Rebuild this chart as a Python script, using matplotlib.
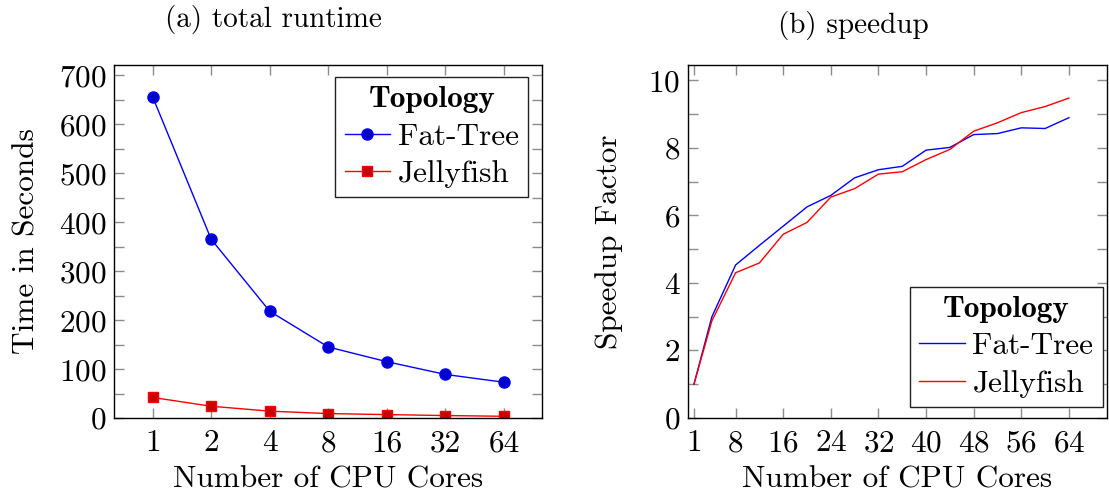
import numpy as np
import matplotlib
matplotlib.use('Agg')
import matplotlib.pyplot as plt
from matplotlib.ticker import MultipleLocator, NullLocator

plt.rcParams['font.family'] = 'cmr10'
plt.rcParams['axes.formatter.use_mathtext'] = True

# (a) total runtime
cores_a = [1, 2, 4, 8, 16, 32, 64]
fat_tree_time = [656, 365, 218, 145, 115, 89, 73]
jellyfish_time = [42, 24, 14, 9, 7, 5, 3.5]

# (b) speedup
cores_b = [1, 4, 8, 12, 16, 20, 24, 28, 32, 36, 40, 44, 48, 52, 56, 60, 64]
fat_tree_speedup = [1.0, 2.99, 4.53, 5.11, 5.68, 6.25, 6.59, 7.11, 7.35, 7.45,
                    7.93, 8.01, 8.39, 8.42, 8.59, 8.57, 8.89]
jellyfish_speedup = [1.0, 2.87, 4.30, 4.59, 5.44, 5.79, 6.54, 6.79, 7.22, 7.29,
                     7.65, 7.95, 8.49, 8.74, 9.04, 9.22, 9.47]
speedup_ticks = [1, 8, 16, 24, 32, 40, 48, 56, 64]

FS = 22.5
fig = plt.figure(figsize=(11.09, 4.94), dpi=100)
ax1 = fig.add_axes([114/1109, 76/494, 428/1109, 353/494])
ax2 = fig.add_axes([688/1109, 76/494, 419/1109, 353/494])


def style(ax):
    for s in ax.spines.values():
        s.set_linewidth(1.0)
        s.set_color('black')
    ax.tick_params(which='both', direction='in', top=True, right=True,
                   length=7.5, width=1.0, color='#8c8c8c', labelsize=FS)
    ax.tick_params(axis='x', pad=8)
    ax.tick_params(axis='y', pad=5.5)


def legend(ax, loc, anchor):
    leg = ax.legend(loc=loc, bbox_to_anchor=anchor, fontsize=FS,
                    title='Topology', title_fontproperties={'family': 'cmb10', 'size': FS},
                    fancybox=False, edgecolor='#222222', framealpha=1, handlelength=1.45,
                    handletextpad=0.25, borderpad=0.3, labelspacing=0.3,
                    borderaxespad=0)
    leg.get_frame().set_linewidth(1.0)
    return leg


ax1.plot(cores_a, fat_tree_time, color='blue', lw=1.0, marker='o', ms=8,
         mfc='#0000cc', mec='blue', label='Fat-Tree')
ax1.plot(cores_a, jellyfish_time, color='red', lw=1.0, marker='s', ms=7.5,
         mfc='#cc0000', mec='red', label='Jellyfish')
ax1.set_xscale('log', base=2)
ax1.set_xlim(2 ** -0.66, 2 ** 6.65)
ax1.set_xticks(cores_a)
ax1.set_xticklabels([str(c) for c in cores_a])
ax1.xaxis.set_minor_locator(NullLocator())
ax1.set_ylim(0, 721)
ax1.yaxis.set_major_locator(MultipleLocator(100))
ax1.yaxis.set_minor_locator(MultipleLocator(50))
style(ax1)
ax1.set_xlabel('Number of CPU Cores', fontsize=FS, va='center')
ax1.set_ylabel('Time in Seconds', fontsize=FS, va='center')
ax1.yaxis.set_label_coords(-0.205, 0.5)
ax1.xaxis.set_label_coords(0.5, -0.175)
legend(ax1, 'upper right', (0.968, 0.966))

ax2.plot(cores_b, fat_tree_speedup, color='blue', lw=1.0, label='Fat-Tree')
ax2.plot(cores_b, jellyfish_speedup, color='red', lw=1.0, label='Jellyfish')
ax2.set_xlim(0, 70.4)
ax2.set_xticks(speedup_ticks)
ax2.set_ylim(0, 10.45)
ax2.yaxis.set_major_locator(MultipleLocator(2))
ax2.yaxis.set_minor_locator(MultipleLocator(1))
style(ax2)
ax2.set_xlabel('Number of CPU Cores', fontsize=FS, va='center')
ax2.set_ylabel('Speedup Factor', fontsize=FS, va='center')
ax2.yaxis.set_label_coords(-0.189, 0.5)
ax2.xaxis.set_label_coords(0.5, -0.175)
legend(ax2, 'lower right', (0.99, 0.031))

fig.text(273/1109, 1 - 20/494, '(a) total runtime', fontsize=21, ha='center', va='center')
fig.text(853/1109, 1 - 26/494, '(b) speedup', fontsize=21, ha='center', va='center')

fig.savefig('out.png', dpi=100)
